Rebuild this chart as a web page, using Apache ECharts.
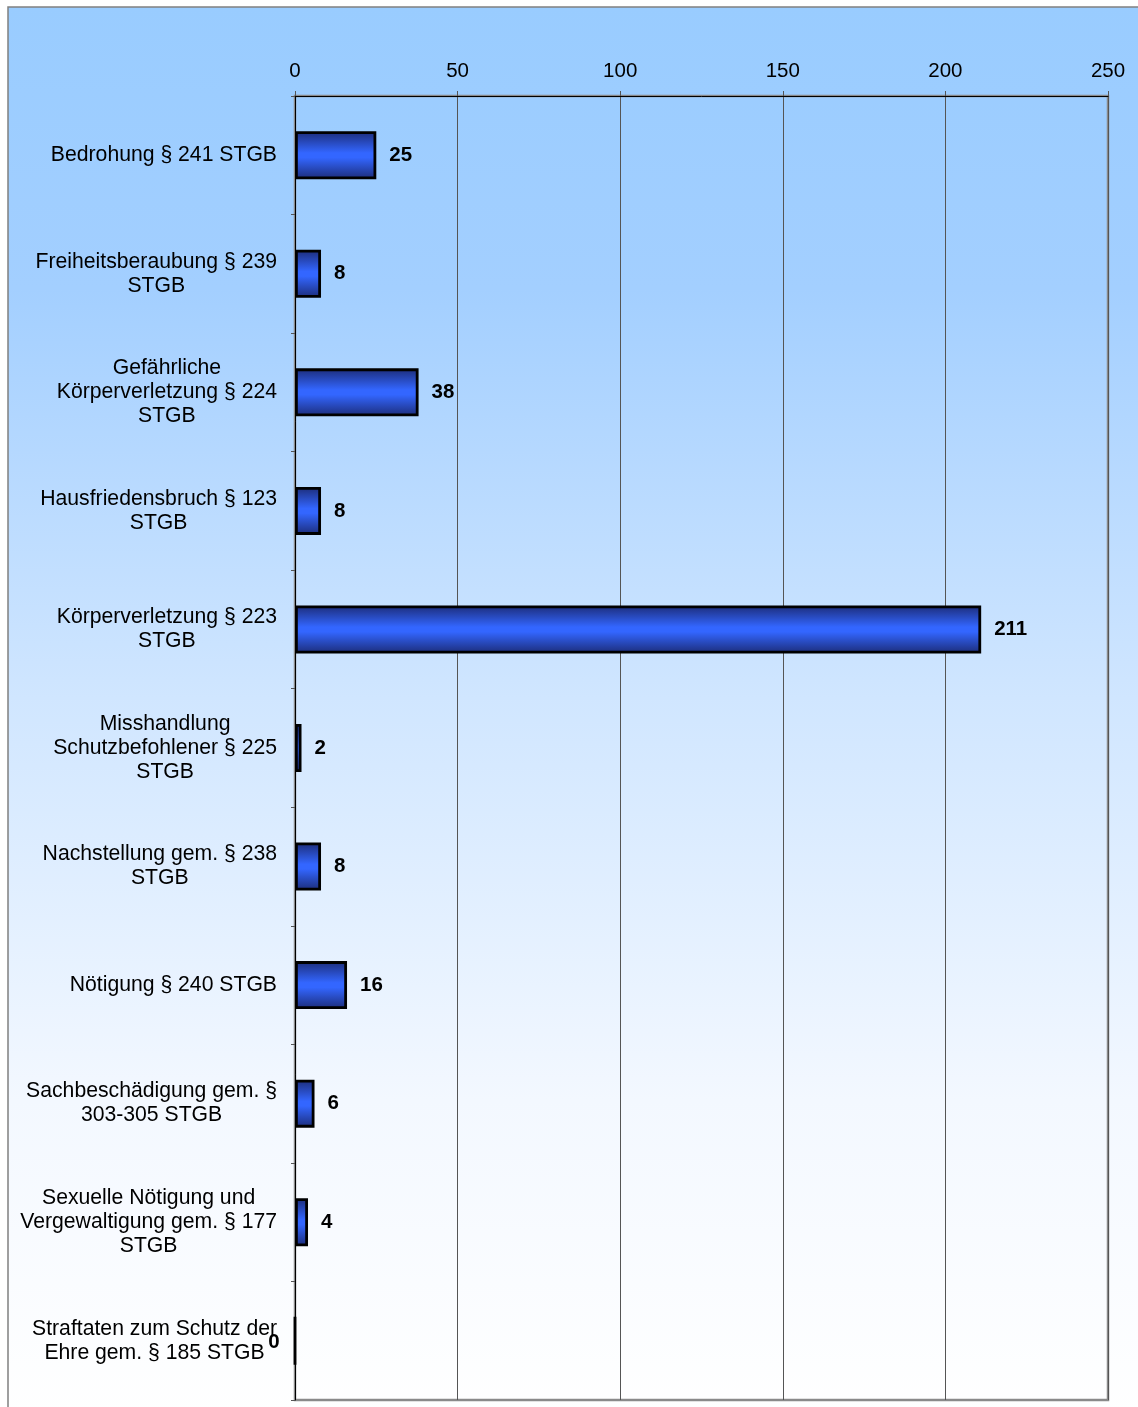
<!DOCTYPE html>
<html><head><meta charset="utf-8">
<script src="https://cdn.jsdelivr.net/npm/echarts@6/dist/echarts.min.js"></script>
<style>html,body{margin:0;padding:0;background:#fff}#c{width:1138px;height:1407px}</style>
</head><body><div id="c"></div>
<script>
var categories = [
  "Bedrohung § 241 STGB",
  "Freiheitsberaubung § 239\nSTGB",
  "Gefährliche\nKörperverletzung § 224\nSTGB",
  "Hausfriedensbruch § 123\nSTGB",
  "Körperverletzung § 223\nSTGB",
  "Misshandlung\nSchutzbefohlener § 225\nSTGB",
  "Nachstellung gem. § 238\nSTGB",
  "Nötigung § 240 STGB",
  "Sachbeschädigung gem. §\n303-305 STGB",
  "Sexuelle Nötigung und\nVergewaltigung gem. § 177\nSTGB",
  "Straftaten zum Schutz der\nEhre gem. § 185 STGB"
];
var values = [25, 8, 38, 8, 211, 2, 8, 16, 6, 4, 0];
var xTicks = [0, 50, 100, 150, 200, 250];

var font = '"Liberation Sans", Arial, sans-serif';
var chart = echarts.init(document.getElementById('c'));
var barData = values.map(function (v) {
  var d = { value: v };
  if (v === 0) d.label = { position: 'left', distance: 14, offset: [0, 2] };
  return d;
});
chart.setOption({
  animation: false,
  backgroundColor: '#ffffff',
  graphic: [{
    type: 'rect', z: -10, silent: true,
    shape: { x: 8, y: 7, width: 1140, height: 1410 },
    style: {
      fill: { type: 'linear', x: 0, y: 0, x2: 0, y2: 1, colorStops: [
        { offset: 0, color: '#99ccff' },
        { offset: 0.2, color: '#a3cfff' },
        { offset: 0.49, color: '#d0e6ff' },
        { offset: 0.775, color: '#f3f8ff' },
        { offset: 1, color: '#ffffff' }
      ]},
      stroke: '#808080', lineWidth: 1.5
    }
  }],
  grid: { left: 295, right: 30, top: 96, bottom: 7, show: true, borderColor: '#8a8a8a', borderWidth: 2.5, backgroundColor: 'transparent' },
  xAxis: {
    type: 'value', position: 'top', min: 0, max: 250, interval: 50,
    axisLine: { show: true, lineStyle: { color: '#000', width: 1 } },
    axisTick: { show: true, inside: false, length: 5, lineStyle: { color: '#555' } },
    axisLabel: { color: '#000', fontSize: 20.5, fontFamily: font, margin: 14,
      formatter: function (v) { return xTicks.indexOf(v) >= 0 ? String(v) : ''; } },
    splitLine: { show: true, lineStyle: { color: '#555', width: 1 } }
  },
  yAxis: {
    type: 'category', data: categories, inverse: true,
    axisLine: { show: true, lineStyle: { color: '#000', width: 1 } },
    axisTick: { show: true, length: 4, lineStyle: { color: '#555' } },
    axisLabel: {
      margin: 18, align: 'right',
      formatter: function (s) { return s.split('\n').map(function (l) { return '{c|' + l + '}'; }).join('\n'); },
      rich: { c: { align: 'center', fontSize: 21.2, fontFamily: font, color: '#000', lineHeight: 24 } }
    }
  },
  series: [{
    type: 'bar', data: barData, barWidth: 48,
    itemStyle: {
      color: { type: 'linear', x: 0, y: 0, x2: 0, y2: 1, colorStops: [
        { offset: 0, color: '#1c2c78' },
        { offset: 0.45, color: '#3366ff' },
        { offset: 0.55, color: '#3366ff' },
        { offset: 1, color: '#1c2c78' }
      ]},
      borderColor: '#000', borderWidth: 2.8
    },
    label: { show: true, position: 'right', distance: 13, color: '#000', fontWeight: 'bold', fontSize: 20.5, fontFamily: font }
  }]
});
</script></body></html>
